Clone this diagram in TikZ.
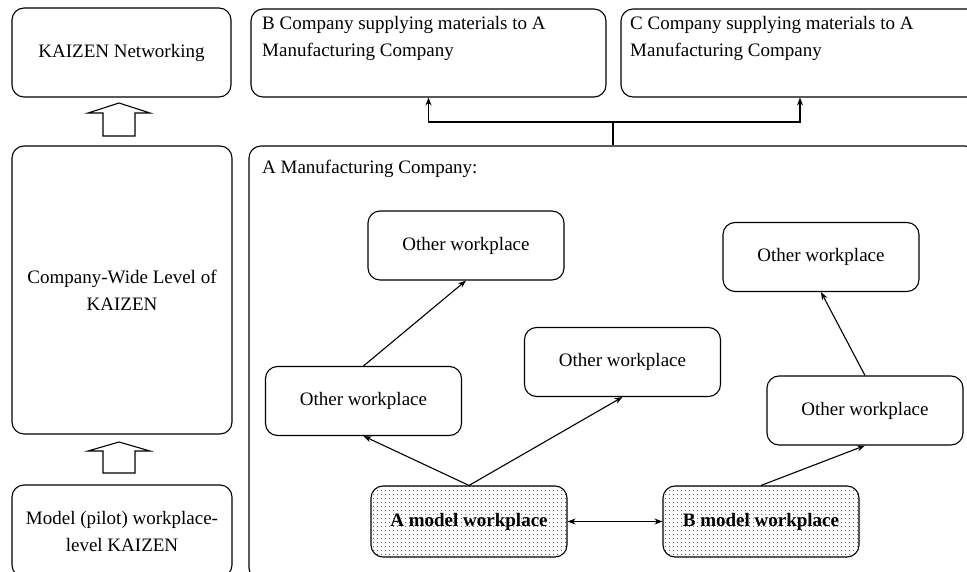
\documentclass[tikz,border=0pt]{standalone}
\usepackage{fontspec}
\setmainfont{Liberation Serif}
\usetikzlibrary{arrows.meta,patterns.meta}
\pgfdeclarepattern{
  name=sparsedots,
  type=uncolored,
  bottom left={\pgfpoint{0pt}{0pt}},
  top right={\pgfpoint{4pt}{4pt}},
  tile size={\pgfpoint{4pt}{4pt}},
  code={\pgfpathcircle{\pgfpoint{2pt}{2pt}}{0.65pt}\pgfusepath{fill}}
}
\begin{document}
\begin{tikzpicture}[x=1pt,y=-1pt,
  font=\fontsize{19}{27}\selectfont,
  box/.style={draw, line width=1.1pt, rounded corners=12pt, inner sep=0pt, align=center},
  other/.style={box, minimum width=196pt, minimum height=69pt},
  modelbox/.style={box, minimum width=196pt, minimum height=71pt, pattern=sparsedots, pattern color=black!65, font=\fontsize{19}{27}\selectfont\bfseries},
  conn/.style={line width=1.1pt, -{Stealth[length=8pt,width=6pt]}},
  blockarrow/.style={draw, line width=1.1pt, fill=white}]
\useasboundingbox (0,0) rectangle (967,572);
\begin{scope}
\clip (0,0) rectangle (967,572);
% left column
\node[box, minimum width=219pt, minimum height=89pt] (net) at (121.5,52.5) {KAIZEN Networking};
\node[box, minimum width=220pt, minimum height=288pt] (cw) at (122,290) {Company-Wide Level of\\KAIZEN};
\node[box, minimum width=220pt, minimum height=92pt] (model) at (122,531) {Model (pilot) workplace-\\level KAIZEN};
% block arrows
\draw[blockarrow] (103,136) -- (103,113) -- (88,113) -- (119,103) -- (150,113) -- (135,113) -- (135,136) -- cycle;
\draw[blockarrow] (103,473) -- (103,451) -- (88,451) -- (119,442) -- (150,451) -- (135,451) -- (135,473) -- cycle;
% supplier boxes
\node[box, minimum width=355pt, minimum height=88pt] (bco) at (428.5,53) {};
\node[anchor=north west, align=left, inner sep=0pt] (bcot) at (262,16) {B Company supplying materials to A\\Manufacturing Company};
\node[box, minimum width=358pt, minimum height=88pt] (cco) at (800,53) {};
\node[anchor=north west, align=left, inner sep=0pt] (ccot) at (630,16) {C Company supplying materials to A\\Manufacturing Company};
% A manufacturing company
\node[box, minimum width=728pt, minimum height=434pt] (amfg) at (613,363) {};
\node[anchor=north west, inner sep=0pt] (amfgt) at (262,160) {A Manufacturing Company:};
% workplaces
\node[other] (o1) at (466,245.5) {Other workplace};
\node[other] (o2) at (821,257) {Other workplace};
\node[other] (o3) at (622.5,362) {Other workplace};
\node[other] (o4) at (363.5,401) {Other workplace};
\node[other] (o5) at (865,410.5) {Other workplace};
\node[modelbox] (am) at (469,521.5) {A model workplace};
\node[modelbox] (bm) at (761,521.5) {B model workplace};
% connectors
\coordinate (j) at (613,122);
\draw[line width=1.1pt] (amfg.north) -- (j);
\draw[conn] (j) -| (bco.south);
\draw[conn] (j) -| (cco.south);
\draw[conn] (o4.north) -- (o1.south);
\draw[conn] (am.north) -- (o4.south);
\draw[conn] (am.north) -- (o3.south);
\draw[conn] (bm.north) -- (o5.south);
\draw[conn] (o5.north) -- (o2.south);
\draw[line width=1.1pt, {Stealth[length=8pt,width=6pt]}-{Stealth[length=8pt,width=6pt]}] (am.east) -- (bm.west);
\end{scope}
\end{tikzpicture}
\end{document}
